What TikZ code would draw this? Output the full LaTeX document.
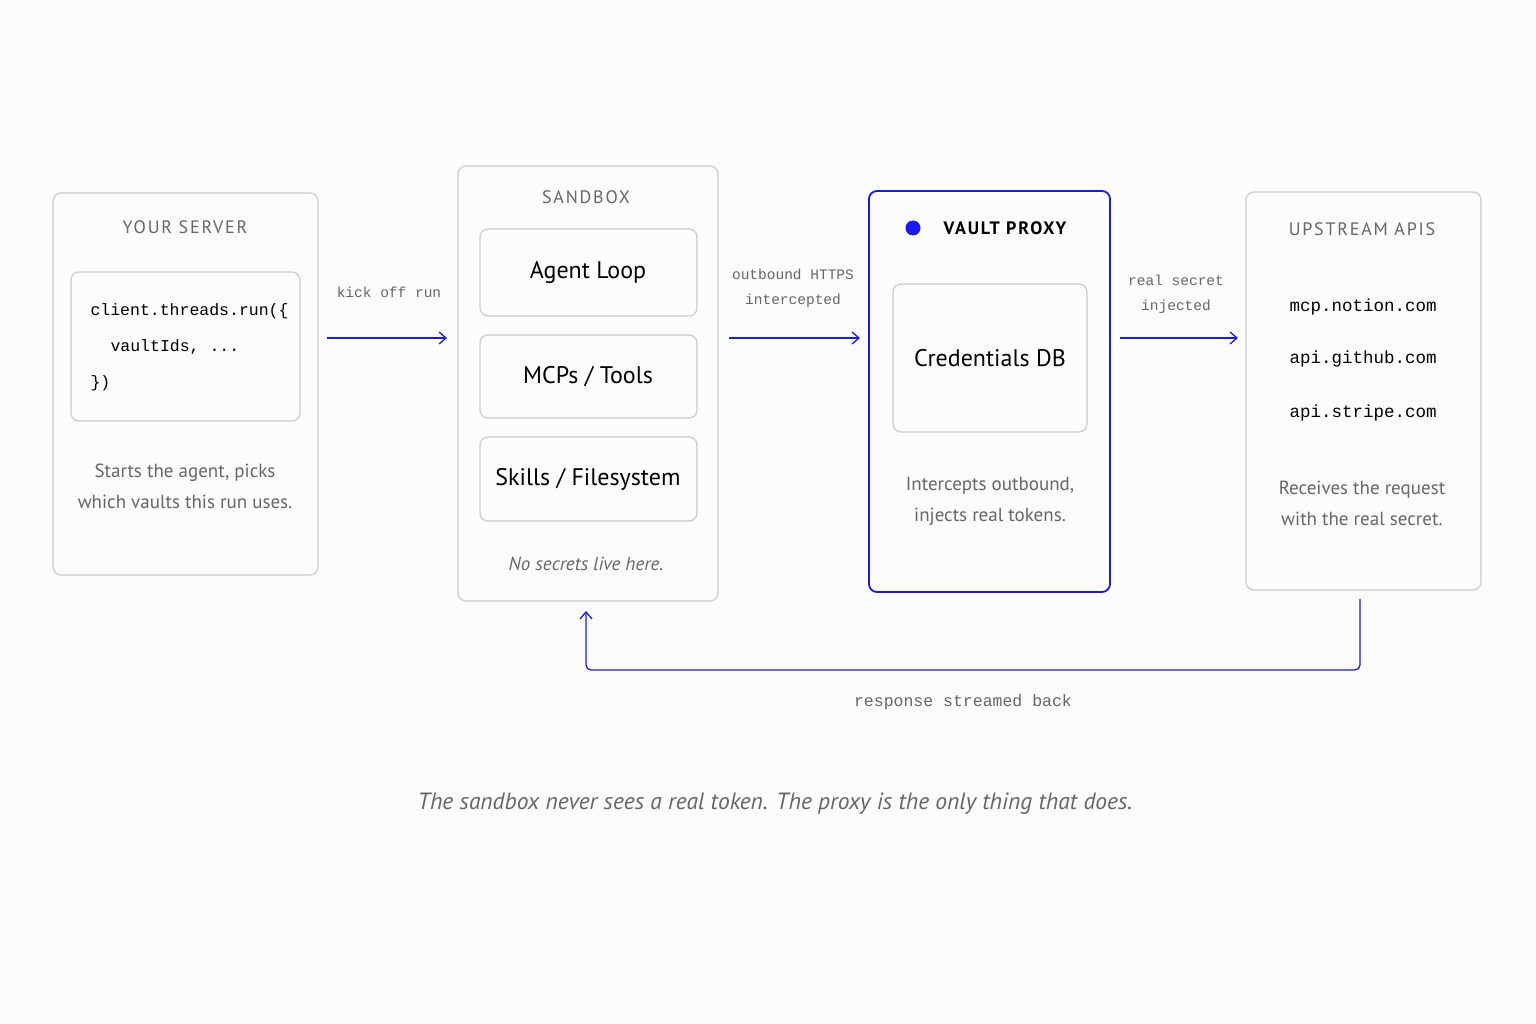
\documentclass[tikz,border=0pt]{standalone}
\usepackage{fontspec}
\setmainfont{PT Sans}
\setmonofont{Liberation Mono}
\newfontfamily\ttlfont[LetterSpace=10]{PT Sans}
\usetikzlibrary{arrows.meta}
\definecolor{bord}{HTML}{CCCCCC}
\definecolor{blu}{HTML}{1A1AEE}
\definecolor{txtg}{HTML}{666666}
\begin{document}
\begin{tikzpicture}[x=1pt,y=-1pt,
 box/.style={draw=bord,line width=1.2pt,rounded corners=8pt},
 ttl/.style={font=\ttlfont\fontsize{18}{20}\selectfont,text=txtg},
 big/.style={font=\fontsize{24}{28}\selectfont},
 captxt/.style={font=\fontsize{19}{31}\selectfont,text=txtg,align=center},
 code/.style={font=\ttfamily\fontsize{16.5}{20}\selectfont,anchor=west},
 lbl/.style={font=\ttfamily\fontsize{14.5}{25}\selectfont,text=txtg,align=center},
 arr/.style={draw=blu,line width=1.3pt,-{Straight Barb[length=7pt,width=12pt]}}]
\fill[white!98!gray] (0,0) rectangle (1536,1024);
\useasboundingbox (0,0) rectangle (1536,1024);
% server
\draw[box] (53,193) rectangle (318,575);
\node[ttl] (t1) at (185,227) {YOUR SERVER};
\draw[box] (71,272) rectangle (300,421);
\node[code] (c1) at (87,311) {client.threads.run(\{};
\node[code] (c2) at (107,347) {vaultIds, ...};
\node[code] (c3) at (87,383) {\})};
\node[captxt] (cp1) at (185,486) {Starts the agent, picks\\which vaults this run uses.};
% sandbox
\draw[box] (458,166) rectangle (718,601);
\node[ttl] (t2) at (586,197) {SANDBOX};
\draw[box] (480,229) rectangle (697,316);
\node[big] (s1) at (588,273) {Agent Loop};
\draw[box] (480,335) rectangle (697,418);
\node[big] (s2) at (588,377) {MCPs / Tools};
\draw[box] (480,437) rectangle (697,521);
\node[big] (s3) at (588,479) {Skills / Filesystem};
\node[font=\itshape\fontsize{19}{22}\selectfont,text=txtg] (ns) at (586,564) {No secrets live here.};
% vault
\draw[draw=blu,line width=1.8pt,rounded corners=8pt] (869,191) rectangle (1110,592);
\fill[blu] (913,228) circle (7.5);
\node[ttl,text=black,font=\ttlfont\bfseries\fontsize{18}{20}\selectfont] (t3) at (1005,228) {VAULT PROXY};
\draw[box] (893,284) rectangle (1087,432);
\node[big] (cdb) at (990,358) {Credentials DB};
\node[captxt] (cp3) at (990,501) {Intercepts outbound,\\injects real tokens.};
% upstream
\draw[box] (1246,192) rectangle (1481,590);
\node[ttl] (t4) at (1362,229) {UPSTREAM APIS};
\node[font=\ttfamily\fontsize{17.5}{20}\selectfont] (u1) at (1363,307) {mcp.notion.com};
\node[font=\ttfamily\fontsize{17.5}{20}\selectfont] (u2) at (1363,359) {api.github.com};
\node[font=\ttfamily\fontsize{17.5}{20}\selectfont] (u3) at (1363,413) {api.stripe.com};
\node[captxt] (cp4) at (1362,503) {Receives the request\\with the real secret.};
% arrows
\coordinate (a1) at (327,338); \coordinate (a2) at (447,338);
\draw[arr] (a1) -- (a2);
\node[lbl] (l1) at (389,292) {kick off run};
\coordinate (b1) at (729,338); \coordinate (b2) at (860,338);
\draw[arr] (b1) -- (b2);
\node[lbl] (l2) at (793,288) {outbound HTTPS\\intercepted};
\coordinate (d1) at (1120,338); \coordinate (d2) at (1238,338);
\draw[arr] (d1) -- (d2);
\node[lbl] (l3) at (1176,294) {real secret\\injected};
\coordinate (r1) at (1360,599); \coordinate (r2) at (586,611);
\draw[arr,rounded corners=5pt] (r1) -- (1360,670) -- (586,670) -- (r2);
\node[lbl,font=\ttfamily\fontsize{16.5}{20}\selectfont] (l4) at (963,702) {response streamed back};
\node[font=\itshape\fontsize{23.5}{26}\selectfont,text=txtg] (foot) at (775,804) {The sandbox never sees a real token. The proxy is the only thing that does.};
\end{tikzpicture}
\end{document}
